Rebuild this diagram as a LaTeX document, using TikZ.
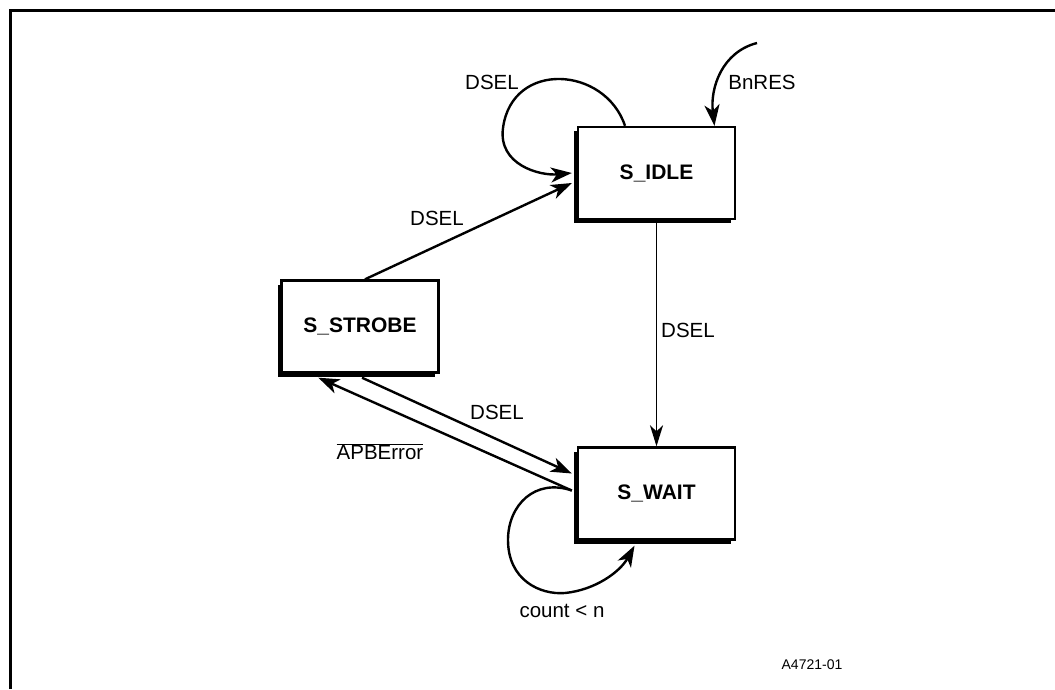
\documentclass[tikz,border=0pt]{standalone}
\usepackage{fontspec}
\setmainfont{Liberation Sans}
\usetikzlibrary{arrows.meta,shadows}

\begin{document}
\begin{tikzpicture}[x=1pt,y=-1pt,
  state/.style={draw,line width=2.4pt,fill=white,minimum width=157pt,minimum height=92pt,
    font=\fontsize{21}{24}\selectfont\bfseries,
    drop shadow={shadow xshift=-4pt,shadow yshift=-4pt,fill=black,opacity=1}},
  lbl/.style={font=\fontsize{20.5}{24}\selectfont},
  arr/.style={line width=2.4pt,-{Stealth[length=21pt,width=15pt,inset=6pt]}}]
\useasboundingbox (0,0) rectangle (1055,689);
\draw[line width=2.5pt] (10.5,689) -- (10.5,10.5) -- (1055,10.5);

\node[state] (idle) at (656.5,173) {S\_IDLE};
\node[state] (strobe) at (360,326.5) {S\_STROBE};
\node[state] (wait) at (656.5,493.5) {S\_WAIT};

\draw[arr] ([xshift=-31.5pt]idle.north) .. controls (605,66) and (512,60) .. (503,128)
  .. controls (498,165) and (540,176) .. ([xshift=-5pt]idle.west);
\node[lbl] (l1) at (492,82) {DSEL};

\coordinate (rst) at (757,43);
\draw[arr] (rst) .. controls (722,52) and (710,88) .. ([xshift=58pt]idle.north);
\node[lbl] (l2) at (762,82) {BnRES};

\draw[arr] ([xshift=5pt]strobe.north) -- ([xshift=-5pt,yshift=-10pt]idle.west);
\node[lbl] (l3) at (437,218) {DSEL};

\draw[line width=1.7pt,-{Stealth[length=21pt,width=13pt,inset=6pt]}] (idle.south) -- (wait.north);
\node[lbl] (l4) at (688,330) {DSEL};

\draw[arr] ([xshift=2pt,yshift=-4pt]strobe.south) -- ([xshift=-5pt,yshift=20pt]wait.west);
\node[lbl] (l5) at (497,412) {DSEL};

\draw[arr] ([xshift=-5pt,yshift=3pt]wait.west) -- ([xshift=38pt,yshift=-4pt]strobe.south west);
\node[lbl] (l6) at (380,452) {$\overline{\hbox{APBError}}$};

\draw[arr] ([xshift=-5pt,yshift=3pt]wait.west) .. controls (535,478) and (508,505) .. (508,540)
  .. controls (508,580) and (540,595) .. (565,593)
  .. controls (595,590) and (620,572) .. ([xshift=-22pt,yshift=-5pt]wait.south);
\node[lbl] (l7) at (562,611) {count < n};

\node[font=\fontsize{14}{16}\selectfont] (fig) at (812,665) {A4721-01};
\end{tikzpicture}
\end{document}
